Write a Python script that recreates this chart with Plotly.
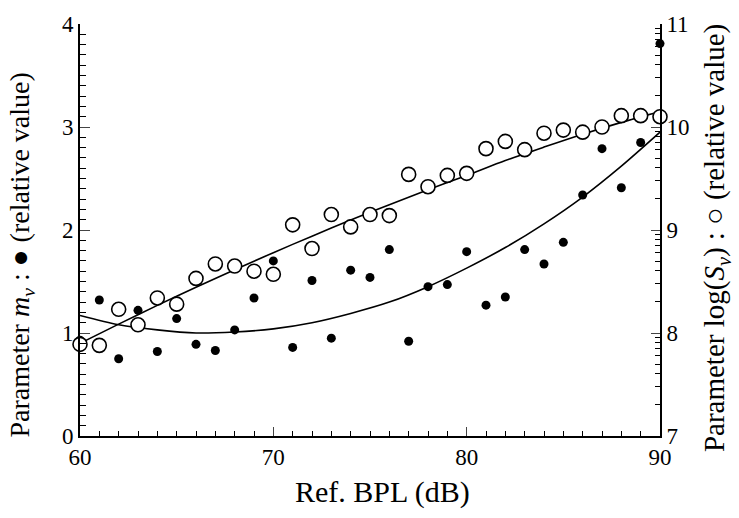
import math
import plotly.graph_objects as go

# ---- data ----
bpl = [60, 61, 62, 63, 64, 65, 66, 67, 68, 69, 70, 71, 72, 73, 74, 75,
       76, 77, 78, 79, 80, 81, 82, 83, 84, 85, 86, 87, 88, 89, 90]
mv = [0.93, 1.32, 0.75, 1.22, 0.82, 1.14, 0.89, 0.83, 1.03, 1.34, 1.70, 0.86,
      1.51, 0.95, 1.61, 1.54, 1.81, 0.92, 1.45, 1.47, 1.79, 1.27, 1.35, 1.81,
      1.67, 1.88, 2.34, 2.79, 2.41, 2.85, 3.81]
logsv = [7.89, 7.88, 8.23, 8.08, 8.34, 8.28, 8.53, 8.67, 8.65, 8.60, 8.57, 9.05,
         8.82, 9.15, 9.03, 9.15, 9.14, 9.54, 9.42, 9.53, 9.55, 9.79, 9.86, 9.78,
         9.94, 9.97, 9.95, 10.00, 10.11, 10.11, 10.10]

fit_x = [60, 62, 64, 66, 68, 70, 72, 74, 76, 78, 80, 82, 84, 86, 88, 90]
fit_mv = [1.17, 1.08, 1.03, 1.00, 1.01, 1.04, 1.10, 1.19, 1.30, 1.45, 1.63,
          1.83, 2.06, 2.32, 2.62, 2.95]
fit_logsv = [7.90, 8.086, 8.268, 8.444, 8.614, 8.78, 8.94, 9.096, 9.246, 9.39,
             9.53, 9.675, 9.805, 9.93, 10.045, 10.15]

x_ticks = [60, 70, 80, 90]
y1_ticks = [0, 1, 2, 3, 4]
y2_ticks = [7, 8, 9, 10, 11]
log_steps = [2, 3, 4, 5, 6, 7, 8, 9]

y2_minor = [d + math.log10(k) for d in y2_ticks[:-1] for k in log_steps]

FONT = "Liberation Serif, Times New Roman, Times, DejaVu Serif, serif"

fig = go.Figure()
fig.add_trace(go.Scatter(x=fit_x, y=fit_mv, mode="lines",
                         line=dict(color="black", width=1.6, shape="spline", smoothing=0.8),
                         showlegend=False, hoverinfo="skip"))
fig.add_trace(go.Scatter(x=fit_x, y=fit_logsv, mode="lines", yaxis="y2",
                         line=dict(color="black", width=1.6, shape="spline", smoothing=0.8),
                         showlegend=False, hoverinfo="skip"))
fig.add_trace(go.Scatter(x=bpl, y=mv, mode="markers", cliponaxis=False,
                         marker=dict(color="black", size=9, line=dict(width=0)),
                         showlegend=False))
fig.add_trace(go.Scatter(x=bpl, y=logsv, mode="markers", yaxis="y2", cliponaxis=False,
                         marker=dict(color="white", size=14, symbol="circle",
                                     line=dict(color="black", width=1.6)),
                         showlegend=False))

tickfont = dict(family=FONT, size=23, color="black")

fig.update_layout(
    width=739, height=518,
    margin=dict(l=80, r=79, t=16, b=82),
    paper_bgcolor="white", plot_bgcolor="white",
    font=dict(family=FONT, color="black", size=20),
    xaxis=dict(range=[60, 90], tickvals=x_ticks, ticks="inside", ticklen=9, tickwidth=1.3,
               showline=True, linecolor="black", linewidth=1.6, showgrid=False, zeroline=False,
               tickfont=tickfont,
               minor=dict(dtick=1, tick0=60, ticks="inside", ticklen=5, tickwidth=1.2, tickcolor="black")),
    yaxis=dict(range=[0, 4], tickvals=y1_ticks, ticks="inside", ticklen=10, tickwidth=1.3,
               showline=True, linecolor="black", linewidth=1.6, showgrid=False, zeroline=False,
               tickfont=tickfont,
               minor=dict(dtick=0.1, tick0=0, ticks="inside", ticklen=6, tickwidth=1.2, tickcolor="black")),
    yaxis2=dict(range=[7, 11], tickvals=y2_ticks, ticks="inside", ticklen=9, tickwidth=1.3,
                overlaying="y", side="right",
                showline=True, linecolor="black", linewidth=1.6, showgrid=False, zeroline=False,
                tickfont=tickfont,
                minor=dict(tickmode="array", tickvals=y2_minor, ticks="inside", ticklen=5,
                           tickwidth=1.2, tickcolor="black")),
    annotations=[
        dict(text="Ref. BPL (dB)", xref="paper", yref="paper", x=0.521, y=-0.136,
             xanchor="center", yanchor="middle", showarrow=False,
             font=dict(family=FONT, size=30, color="black")),
        dict(text="Parameter <i>m<sub>v</sub></i> : \u25CF (relative value)", xref="paper", yref="paper",
             x=-0.10, y=0.438, textangle=-90, xanchor="center", yanchor="middle",
             showarrow=False, font=dict(family=FONT, size=28, color="black")),
        dict(text="Parameter log(<i>S<sub>v</sub></i>) : \u25CB (relative value)", xref="paper", yref="paper",
             x=1.097, y=0.481, textangle=-90, xanchor="center", yanchor="middle",
             showarrow=False, font=dict(family=FONT, size=29, color="black")),
    ],
)

fig.write_html("out.html", config={"displayModeBar": False},
               post_script="document.body.style.margin='0';document.body.style.overflow='hidden';")
